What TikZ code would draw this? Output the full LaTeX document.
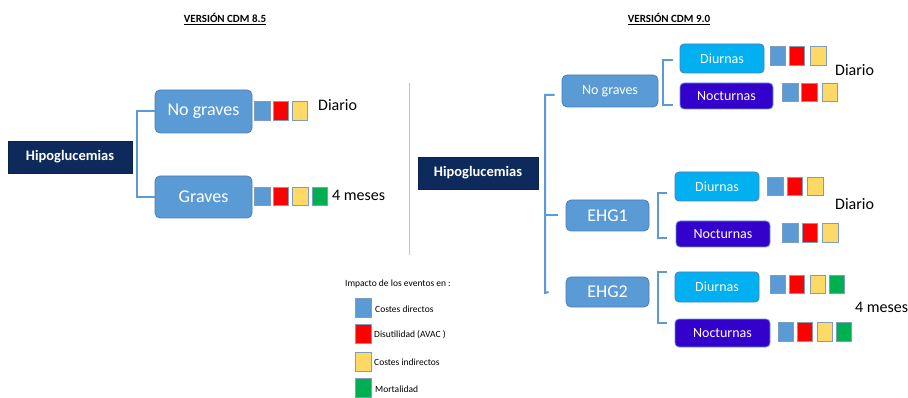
\documentclass[tikz,border=0pt]{standalone}
\usepackage{fontspec}
\setmainfont{Carlito}
\definecolor{navy}{HTML}{0E2A5C}
\definecolor{midblue}{HTML}{5B9BD5}
\definecolor{midedge}{HTML}{4A7EBB}
\definecolor{cyanbox}{HTML}{00B0F0}
\definecolor{nightbox}{HTML}{3300CC}
\definecolor{sqblue}{HTML}{5B9BD5}
\definecolor{sqred}{HTML}{FF0000}
\definecolor{sqyellow}{HTML}{FFD966}
\definecolor{sqgreen}{HTML}{00B050}
\definecolor{sqedge}{HTML}{7F9DBF}
\definecolor{divider}{HTML}{B4C7DC}
\tikzset{
  rootbox/.style={draw=navy!80!black, fill=navy, text=white, inner sep=0pt, font=\fontsize{14.5}{16}\selectfont\bfseries},
  catbox/.style={draw=midedge, fill=midblue, text=white, rounded corners=5pt, inner sep=0pt, line width=0.8pt},
  daybox/.style={draw=midedge, fill=cyanbox, text=white, rounded corners=4pt, inner sep=0pt, line width=0.8pt, font=\fontsize{14}{16}\selectfont},
  nightbox/.style={draw=midblue, fill=nightbox, text=white, rounded corners=4pt, inner sep=0pt, line width=0.8pt, font=\fontsize{14}{16}\selectfont},
  sq/.style={draw=sqedge, line width=0.8pt, minimum width=15.5pt, minimum height=18.5pt, inner sep=0pt},
  conn/.style={draw=midblue, line width=2pt},
  lbl/.style={inner sep=0pt, font=\fontsize{16}{18}\selectfont},
  legtext/.style={inner sep=0pt, anchor=west, font=\fontsize{9.5}{11}\selectfont},
  title/.style={inner sep=0pt, font=\fontsize{11}{13}\selectfont\bfseries}
}
\begin{document}
\begin{tikzpicture}[x=1pt,y=-1pt]
\useasboundingbox[fill=white] (0,0) rectangle (908,398);

% titles
\node[title] (t1) at (225,19) {\underline{VERSIÓN CDM 8.5}};
\node[title] (t2) at (669,19) {\underline{VERSIÓN CDM 9.0}};

% divider
\coordinate (dv1) at (409,83);
\coordinate (dv2) at (409,255);
\draw[divider, line width=1pt] (dv1) -- (dv2);

% ---------- left tree ----------
\node[rootbox, minimum width=124pt, minimum height=32pt] (lroot) at (70,157) {Hipoglucemias};
\node[catbox, minimum width=97pt, minimum height=43pt, font=\fontsize{18}{20}\selectfont] (lng) at (203.5,111.5) {No graves};
\node[catbox, minimum width=97pt, minimum height=42pt, font=\fontsize{18}{20}\selectfont] (lgr) at (203.5,197) {Graves};
\coordinate (lspine) at (137,0);
\draw[conn] (lng.west) -- (lng.west -| lspine) -- (lgr.west -| lspine) -- (lgr.west);

\node[sq, fill=sqblue] (a1) at (262.5,111) {};
\node[sq, fill=sqred] (a2) at (281,111) {};
\node[sq, fill=sqyellow] (a3) at (300,111) {};
\node[lbl, anchor=west] (ldiario) at (318,105) {Diario};

\node[sq, fill=sqblue] (b1) at (262.5,196.5) {};
\node[sq, fill=sqred] (b2) at (281,196.5) {};
\node[sq, fill=sqyellow] (b3) at (300.5,196.5) {};
\node[sq, fill=sqgreen] (b4) at (320,196.5) {};
\node[lbl, anchor=west] (lmeses) at (332,195) {4 meses};

% ---------- legend ----------
\node[inner sep=0pt, anchor=west, font=\fontsize{9.5}{11}\selectfont] (leg) at (345,284) {Impacto de los eventos en :};
\node[sq, fill=sqblue, minimum width=16pt, minimum height=19pt] (g1) at (363,308) {};
\node[sq, fill=sqred, minimum width=16pt, minimum height=19pt] (g2) at (363,334) {};
\node[sq, fill=sqyellow, minimum width=16pt, minimum height=19pt] (g3) at (363,362) {};
\node[sq, fill=sqgreen, minimum width=16pt, minimum height=19pt] (g4) at (363,388) {};
\node[legtext] (gl1) at (375,309) {Costes directos};
\node[legtext] (gl2) at (374,335) {Disutilidad (AVAC )};
\node[legtext] (gl3) at (374,362) {Costes indirectos};
\node[legtext] (gl4) at (375,389) {Mortalidad};

% ---------- right tree ----------
\node[rootbox, minimum width=120pt, minimum height=32pt] (rroot) at (478,173) {Hipoglucemias};
\node[catbox, minimum width=96pt, minimum height=32pt, font=\fontsize{14}{16}\selectfont] (rng) at (610,91) {No graves};
\node[catbox, minimum width=83pt, minimum height=31pt, font=\fontsize{18}{20}\selectfont] (e1) at (607.5,215.5) {EHG1};
\node[catbox, minimum width=83pt, minimum height=30pt, font=\fontsize{18}{20}\selectfont] (e2) at (607.5,292) {EHG2};

\coordinate (rspine) at (545,0);
\coordinate (rtop) at (545,95);
\coordinate (rbot) at (545,293);
\draw[conn] ([xshift=-7pt,yshift=-4pt]rng.west) -- (rtop) -- (rbot) -- ([xshift=-17pt]e2.west);
\draw[conn] (rspine |- e1.west) -- ([xshift=-8pt]e1.west);

% sub boxes
\node[daybox, minimum width=84pt, minimum height=29pt] (d1) at (722,58.5) {Diurnas};
\node[nightbox, minimum width=93pt, minimum height=26pt] (n1) at (726.5,96) {Nocturnas};
\node[daybox, minimum width=84pt, minimum height=29pt] (d2) at (717,186.5) {Diurnas};
\node[nightbox, minimum width=94pt, minimum height=26pt] (n2) at (723,234) {Nocturnas};
\node[daybox, minimum width=84pt, minimum height=30pt] (d3) at (717,287) {Diurnas};
\node[nightbox, minimum width=95pt, minimum height=28pt] (n3) at (722.5,333) {Nocturnas};

% sub brackets
\coordinate (b1t) at (663,60);  \coordinate (b1b) at (663,105);
\draw[conn] ([xshift=-7pt,yshift=-1.5pt]d1.west) -- (b1t) -- (b1b) -- ([xshift=-7pt,yshift=-9pt]n1.west);
\coordinate (b2t) at (658,193); \coordinate (b2b) at (658,238);
\draw[conn] ([xshift=-8pt,yshift=-6.5pt]d2.west) -- (b2t) -- (b2b) -- ([xshift=-9pt,yshift=-4pt]n2.west);
\coordinate (b3t) at (658,272); \coordinate (b3b) at (658,323);
\draw[conn] ([xshift=-8pt,yshift=15pt]d3.west) -- (b3t) -- (b3b) -- ([xshift=-8pt,yshift=10pt]n3.west);

% squares
\node[sq, fill=sqblue] (c11) at (778,56) {};
\node[sq, fill=sqred] (c12) at (797,56) {};
\node[sq, fill=sqyellow] (c13) at (818.5,56) {};
\node[sq, fill=sqblue] (c21) at (790.5,92.5) {};
\node[sq, fill=sqred] (c22) at (809.5,92.5) {};
\node[sq, fill=sqyellow] (c23) at (830,92.5) {};
\node[lbl, anchor=west] (rdiario1) at (835,70) {Diario};

\node[sq, fill=sqblue] (c31) at (775.5,186.5) {};
\node[sq, fill=sqred] (c32) at (795,186.5) {};
\node[sq, fill=sqyellow] (c33) at (815.5,186.5) {};
\node[sq, fill=sqblue] (c41) at (790.5,233) {};
\node[sq, fill=sqred] (c42) at (810,233) {};
\node[sq, fill=sqyellow] (c43) at (830.5,233) {};
\node[lbl, anchor=west] (rdiario2) at (835,204) {Diario};

\node[sq, fill=sqblue] (c51) at (778,284.5) {};
\node[sq, fill=sqred] (c52) at (797,284.5) {};
\node[sq, fill=sqyellow] (c53) at (818,284.5) {};
\node[sq, fill=sqgreen] (c54) at (837,284.5) {};
\node[sq, fill=sqblue] (c61) at (786,332) {};
\node[sq, fill=sqred] (c62) at (805,332) {};
\node[sq, fill=sqyellow] (c63) at (825,332) {};
\node[sq, fill=sqgreen] (c64) at (844,332) {};
\node[lbl, anchor=west] (rmeses) at (855,307) {4 meses};
\end{tikzpicture}
\end{document}
